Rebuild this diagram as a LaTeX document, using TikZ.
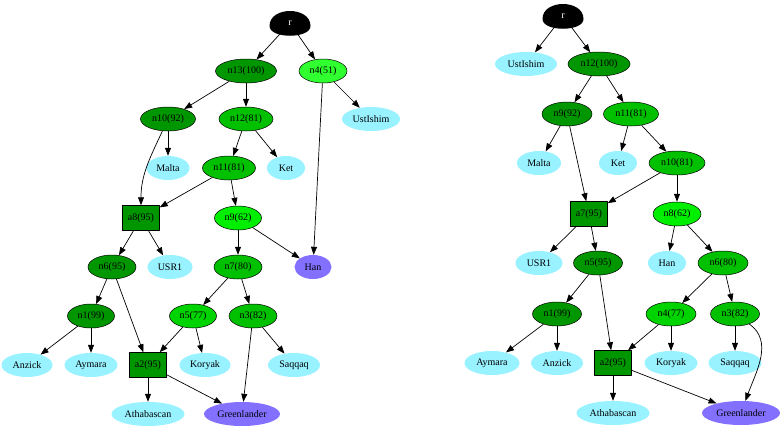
\documentclass[tikz,border=0pt]{standalone}
\usepackage{fontspec}
\setmainfont{Liberation Serif}
\usetikzlibrary{shapes.geometric,arrows.meta}
\definecolor{gDark}{RGB}{0,150,0}
\definecolor{gMed}{RGB}{0,192,0}
\definecolor{gLight}{RGB}{0,212,0}
\definecolor{gNeon}{RGB}{0,238,0}
\definecolor{gBright}{RGB}{48,255,48}
\definecolor{leafc}{RGB}{152,242,255}
\definecolor{purp}{RGB}{132,112,255}
\tikzset{
  base/.style={ellipse, inner sep=0pt, minimum height=24pt, font=\fontsize{10}{12}\selectfont},
  gnode/.style={base, draw=black, line width=0.5pt},
  gD/.style={gnode, fill=gDark},
  gM/.style={gnode, fill=gMed},
  gL/.style={gnode, fill=gLight},
  gN/.style={gnode, fill=gNeon},
  gB/.style={gnode, fill=gBright},
  leaf/.style={base, fill=leafc},
  pur/.style={base, fill=purp},
  rootn/.style={base, text=white, minimum width=41pt, minimum height=25pt},
  boxn/.style={rectangle, draw=black, line width=0.5pt, fill=gDark, inner sep=0pt, minimum width=37pt, minimum height=25pt, font=\fontsize{10}{12}\selectfont},
  mw/.style={minimum width=#1pt},
  arr/.style={-{Triangle[length=8pt,width=6pt]}, line width=0.7pt},
  egg/.pic={\fill[black] (-20.5,3) .. controls (-20.5,-17) and (20.5,-17) .. (20.5,3) .. controls (20.5,16) and (-20.5,16) .. cycle;}
}
\begin{document}
\begin{tikzpicture}[x=1pt,y=-1pt]
\useasboundingbox (0,0) rectangle (782,429);
% ---------- left graph ----------
\pic at (290,23) {egg};
\node[rootn] (Lr) at (290,23) {r};
\node[gD,mw=61] (Ln13) at (246,71) {n13(100)};
\node[gB,mw=48] (Ln4) at (323,71) {n4(51)};
\node[gD,mw=55] (Ln10) at (168,119) {n10(92)};
\node[gM,mw=54] (Ln12) at (246,119) {n12(81)};
\node[leaf,mw=58] (LUst) at (371,119) {UstIshim};
\node[leaf,mw=43] (LMalta) at (168,168) {Malta};
\node[gM,mw=53] (Ln11) at (229,168) {n11(81)};
\node[leaf,mw=38] (LKet) at (286,168) {Ket};
\node[boxn] (La8) at (141,218) {a8(95)};
\node[gN,mw=47] (Ln9) at (238,218) {n9(62)};
\node[gD,mw=48] (Ln6) at (112,267) {n6(95)};
\node[leaf,mw=45] (LUSR1) at (170,267) {USR1};
\node[gM,mw=48] (Ln7) at (238,267) {n7(80)};
\node[pur,mw=37] (LHan) at (313,267) {Han};
\node[gD,mw=47] (Ln1) at (91,316) {n1(99)};
\node[gL,mw=47] (Ln5) at (193,316) {n5(77)};
\node[gM,mw=48] (Ln3) at (253,316) {n3(82)};
\node[leaf,mw=51] (LAnzick) at (27,365) {Anzick};
\node[leaf,mw=53] (LAymara) at (91,365) {Aymara};
\node[boxn] (La2) at (148,365) {a2(95)};
\node[leaf,mw=51] (LKoryak) at (205,365) {Koryak};
\node[leaf,mw=52] (LSaqqaq) at (294,365) {Saqqaq};
\node[leaf,mw=73] (LAth) at (148,414) {Athabascan};
\node[pur,mw=76] (LGreen) at (242,414) {Greenlander};
\draw[arr] (Lr) -- (Ln13);
\draw[arr] (Lr) -- (Ln4);
\draw[arr] (Ln13) -- (Ln10);
\draw[arr] (Ln13) -- (Ln12);
\draw[arr] (Ln4) -- (LUst);
\draw[arr] (Ln4) -- (LHan);
\draw[arr] (Ln10) -- (LMalta);
\draw[arr] (Ln10) to[out=-115,in=90] (La8);
\draw[arr] (Ln12) -- (Ln11);
\draw[arr] (Ln12) -- (LKet);
\draw[arr] (Ln11) -- (La8);
\draw[arr] (Ln11) -- (Ln9);
\draw[arr] (La8) -- (Ln6);
\draw[arr] (La8) -- (LUSR1);
\draw[arr] (Ln9) -- (Ln7);
\draw[arr] (Ln9) -- (LHan);
\draw[arr] (Ln6) -- (Ln1);
\draw[arr] (Ln6) -- (La2);
\draw[arr] (Ln7) -- (Ln5);
\draw[arr] (Ln7) -- (Ln3);
\draw[arr] (Ln1) -- (LAnzick);
\draw[arr] (Ln1) -- (LAymara);
\draw[arr] (Ln5) -- (La2);
\draw[arr] (Ln5) -- (LKoryak);
\draw[arr] (Ln3) -- (LGreen);
\draw[arr] (Ln3) -- (LSaqqaq);
\draw[arr] (La2) -- (LAth);
\draw[arr] (La2) -- (LGreen);
% ---------- right graph ----------
\pic at (563,16) {egg};
\node[rootn] (Rr) at (563,16) {r};
\node[leaf,mw=62] (RUst) at (526,64) {UstIshim};
\node[gD,mw=62] (Rn12) at (599,64) {n12(100)};
\node[gD,mw=50] (Rn9) at (567,114) {n9(92)};
\node[gM,mw=55] (Rn11) at (631,114) {n11(81)};
\node[leaf,mw=44] (RMalta) at (539,163) {Malta};
\node[leaf,mw=38] (RKet) at (618,163) {Ket};
\node[gM,mw=56] (Rn10) at (677,163) {n10(81)};
\node[boxn] (Ra7) at (589,214) {a7(95)};
\node[gN,mw=48] (Rn8) at (677,214) {n8(62)};
\node[leaf,mw=47] (RUSR1) at (539,263) {USR1};
\node[gD,mw=49] (Rn5) at (598,263) {n5(95)};
\node[leaf,mw=38] (RHan) at (667,263) {Han};
\node[gM,mw=50] (Rn6) at (723,263) {n6(80)};
\node[gD,mw=49] (Rn1) at (557,314) {n1(99)};
\node[gL,mw=50] (Rn4) at (671,314) {n4(77)};
\node[gM,mw=49] (Rn3) at (735,314) {n3(82)};
\node[leaf,mw=55] (RAymara) at (492,363) {Aymara};
\node[leaf,mw=52] (RAnzick) at (557,363) {Anzick};
\node[boxn] (Ra2) at (613,363) {a2(95)};
\node[leaf,mw=53] (RKoryak) at (671,363) {Koryak};
\node[leaf,mw=53] (RSaqqaq) at (735,363) {Saqqaq};
\node[leaf,mw=73] (RAth) at (613,413) {Athabascan};
\node[pur,mw=78] (RGreen) at (741,413) {Greenlander};
\draw[arr] (Rr) -- (RUst);
\draw[arr] (Rr) -- (Rn12);
\draw[arr] (Rn12) -- (Rn9);
\draw[arr] (Rn12) -- (Rn11);
\draw[arr] (Rn9) -- (RMalta);
\draw[arr] (Rn9) -- (Ra7);
\draw[arr] (Rn11) -- (RKet);
\draw[arr] (Rn11) -- (Rn10);
\draw[arr] (Rn10) -- (Ra7);
\draw[arr] (Rn10) -- (Rn8);
\draw[arr] (Ra7) -- (RUSR1);
\draw[arr] (Ra7) -- (Rn5);
\draw[arr] (Rn8) -- (RHan);
\draw[arr] (Rn8) -- (Rn6);
\draw[arr] (Rn5) -- (Rn1);
\draw[arr] (Rn5) -- (Ra2);
\draw[arr] (Rn6) -- (Rn4);
\draw[arr] (Rn6) -- (Rn3);
\draw[arr] (Rn1) -- (RAymara);
\draw[arr] (Rn1) -- (RAnzick);
\draw[arr] (Rn4) -- (Ra2);
\draw[arr] (Rn4) -- (RKoryak);
\draw[arr] (Rn3) -- (RSaqqaq);
\draw[arr] (Rn3) to[out=-35,in=70] (RGreen);
\draw[arr] (Ra2) -- (RAth);
\draw[arr] (Ra2) -- (RGreen);
\end{tikzpicture}
\end{document}
